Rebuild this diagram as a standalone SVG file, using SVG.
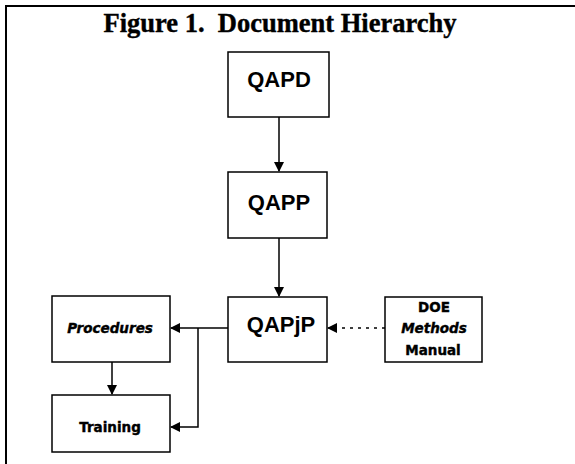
<svg xmlns="http://www.w3.org/2000/svg" width="575" height="464" viewBox="0 0 575 464">
<style>
.box{fill:#fff;stroke:#000;stroke-width:1.5}
.lbl{font-family:"Liberation Sans",Arial,sans-serif;font-weight:bold;text-anchor:middle;fill:#000}
.big{font-size:22px}
.sm{font-family:"DejaVu Sans","Liberation Sans",sans-serif;font-size:13.5px;stroke:#000;stroke-width:0.4}
.it{font-style:italic}
.ln{fill:none;stroke:#000;stroke-width:1.5}
.title{font-family:"Liberation Serif","Times New Roman",serif;font-weight:bold;font-size:26.5px;text-anchor:middle;fill:#000;white-space:pre;stroke:#000;stroke-width:0.4}
</style>
<defs>
<marker id="ah" markerWidth="10" markerHeight="10" refX="9" refY="5" orient="auto" markerUnits="userSpaceOnUse">
<path d="M0,0 L10,5 L0,10 Z" fill="#000"/>
</marker>
</defs>
<rect width="575" height="464" fill="#fff"/>
<g id="frame">
<line x1="5" y1="6" x2="575" y2="6" stroke="#000" stroke-width="2"/>
<line x1="6" y1="5" x2="6" y2="464" stroke="#000" stroke-width="2"/>
</g>
<text class="title" x="280" y="32">Figure 1.  Document Hierarchy</text>
<g id="connectors">
<line class="ln" x1="279" y1="117" x2="279" y2="171" marker-end="url(#ah)"/>
<line class="ln" x1="279" y1="238" x2="279" y2="296" marker-end="url(#ah)"/>
<line class="ln" x1="228" y1="328" x2="171" y2="328" marker-end="url(#ah)"/>
<polyline class="ln" points="198,328 198,427 171,427" marker-end="url(#ah)"/>
<line class="ln" x1="112" y1="362" x2="112" y2="394" marker-end="url(#ah)"/>
<line class="ln" x1="385" y1="328" x2="328" y2="328" stroke-dasharray="3,5" marker-end="url(#ah)"/>
</g>
<g id="qapd">
<rect class="box" x="228" y="52" width="101" height="65"/>
<text class="lbl big" x="279" y="87">QAPD</text>
</g>
<g id="qapp">
<rect class="box" x="228" y="172" width="99" height="66"/>
<text class="lbl big" x="279" y="210">QAPP</text>
</g>
<g id="qapjp">
<rect class="box" x="228" y="297" width="99" height="65"/>
<text class="lbl big" x="281" y="332">QAPjP</text>
</g>
<g id="procedures">
<rect class="box" x="52" y="296" width="118" height="66"/>
<text class="lbl sm it" x="110" y="333">Procedures</text>
</g>
<g id="training">
<rect class="box" x="52" y="395" width="118" height="57"/>
<text class="lbl sm" x="110" y="432">Training</text>
</g>
<g id="doe">
<rect class="box" x="385" y="297" width="97" height="65"/>
<text class="lbl sm" x="434" y="312">DOE</text>
<text class="lbl sm it" x="434" y="333">Methods</text>
<text class="lbl sm" x="433" y="355">Manual</text>
</g>
</svg>
